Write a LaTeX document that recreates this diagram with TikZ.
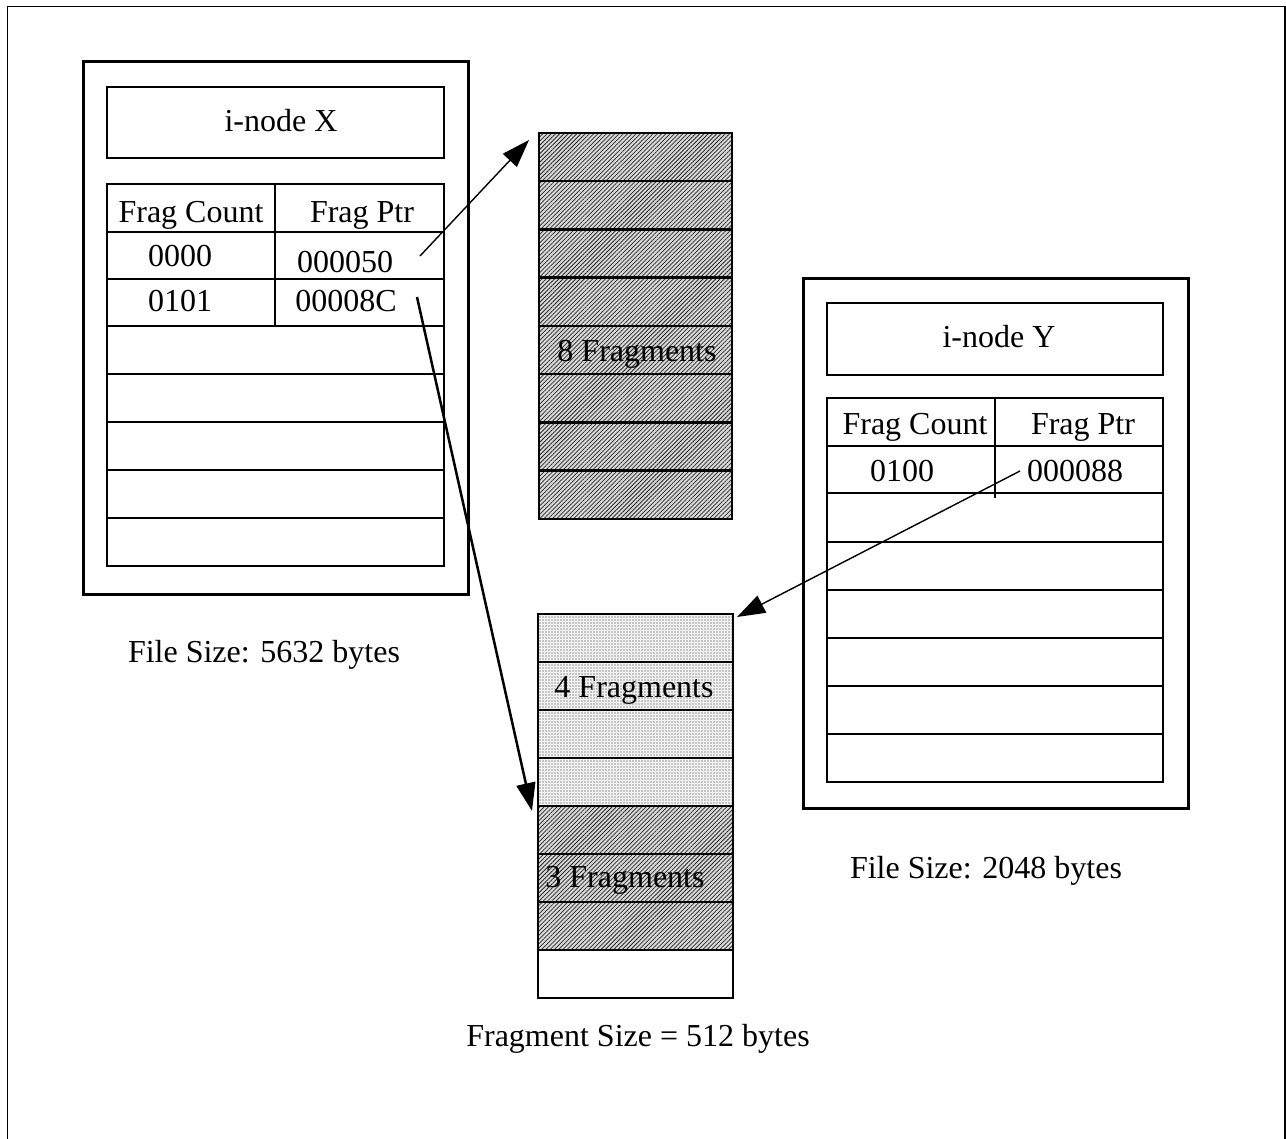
\documentclass[tikz,border=0pt]{standalone}
\usepackage{fontspec}
\setmainfont{Liberation Serif}
\usetikzlibrary{arrows.meta,patterns.meta}
\begin{document}
\begin{tikzpicture}[x=1pt,y=-1pt,
  sz/.style 2 args={minimum width=#1pt, minimum height=#2pt},
  frame/.style={line width=1.5pt},
  holder/.style={draw, line width=3pt, inner sep=0pt, outer sep=0pt, anchor=north west},
  cell/.style={draw, line width=2.5pt, inner sep=0pt, outer sep=0pt, anchor=north west},
  hatched/.style={cell, preaction={fill=gray!30},
    pattern={Lines[angle=45,distance=3pt,line width=0.75pt]}, pattern color=black!85},
  dotted/.style={cell, preaction={fill=gray!10},
    pattern={Dots[distance=3pt,radius=0.6pt]}, pattern color=black!80},
  plain/.style={cell, fill=white},
  lbl/.style={font=\fontsize{32}{38}\selectfont, inner sep=0pt, anchor=base},
  ptr/.style={-{Triangle[length=28pt,width=19pt]}, line width=1.4pt},
  ptrbold/.style={-{Triangle[length=28pt,width=19pt]}, line width=2.5pt}
]
\useasboundingbox (0,0) rectangle (1286,1139);

% page frame, open at the bottom
\draw[frame] (7.5,1139) -- (7.5,6.5) -- (1285,6.5) -- (1285,1139);

% ---------- i-node X ----------
\node[holder, sz={385}{532}] (ix) at (83,62) {};
\node[cell, sz={337}{71}] (ixtitle) at (107,87) {};
\node[lbl] (ixname) at (281,132) {i-node X};
\foreach \y/\h [count=\i from 0] in {184/48,232/47,279/47,326/48,374/48,422/48,470/48,518/48}
  \node[cell, sz={337}{\h}] (ixr\i) at (107,\y) {};
\draw[line width=2.5pt] (275,184) -- (275,326);
\node[lbl] (ixhc) at (191,223) {Frag Count};
\node[lbl] (ixhp) at (362,223) {Frag Ptr};
\node[lbl] (ixc1) at (180,267) {0000};
\node[lbl] (ixp1) at (345,273) {000050};
\node[lbl] (ixc2) at (180,312) {0101};
\node[lbl] (ixp2) at (346,312) {00008C};
\node[lbl] (ixsize) at (264,662) {File Size: 5632 bytes};

% ---------- fragment run A (8 fragments) ----------
\foreach \i in {0,...,7}
  \node[hatched, sz={193}{48.25}] (fa\i) at (539,{133+48.25*\i}) {};
\node[lbl] (falbl) at (637,362) {8 Fragments};

% ---------- fragment run B (4 + 3 fragments) ----------
\foreach \i in {0,...,3}
  \node[dotted, sz={195}{48}] (fb\i) at (538,{614+48*\i}) {};
\foreach \i in {4,...,6}
  \node[hatched, sz={195}{48}] (fb\i) at (538,{614+48*\i}) {};
\node[plain, sz={195}{48}] (fb7) at (538,950) {};
\node[lbl] (fblbl4) at (634,697) {4 Fragments};
\node[lbl] (fblbl3) at (625,887) {3 Fragments};
\node[lbl] (fragsize) at (638,1046) {Fragment Size = 512 bytes};

% ---------- i-node Y ----------
\node[holder, sz={385}{529}] (iy) at (803,279) {};
\node[cell, sz={336}{72}] (iytitle) at (827,303) {};
\node[lbl] (iyname) at (999,348) {i-node Y};
\foreach \y/\h [count=\i from 0] in {398/48,446/47,493/49,542/48,590/48,638/48,686/48,734/48}
  \node[cell, sz={336}{\h}] (iyr\i) at (827,\y) {};
\draw[line width=2.5pt] (995,398) -- (995,498);
\node[lbl] (iyhc) at (915,435) {Frag Count};
\node[lbl] (iyhp) at (1083,435) {Frag Ptr};
\node[lbl] (iyc1) at (902,482) {0100};
\node[lbl] (iyp1) at (1075,482) {000088};
\node[lbl] (iysize) at (986,878) {File Size: 2048 bytes};

% ---------- pointers ----------
\coordinate (s1) at (420,256);
\coordinate (t1) at (529,140);
\coordinate (s2) at (417,297);
\coordinate (t2) at (532,811);
\coordinate (s3) at (1020,471);
\coordinate (t3) at (737,617);
\draw[ptr] (s1) -- (t1);
\draw[ptrbold] (s2) -- (t2);
\draw[ptr] (s3) -- (t3);
\end{tikzpicture}
\end{document}
